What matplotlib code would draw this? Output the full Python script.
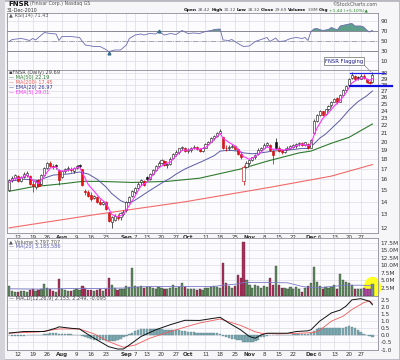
import pandas as pd
import matplotlib.pyplot as plt
from matplotlib.patches import Ellipse, Rectangle
from matplotlib.ticker import FixedLocator, NullLocator

# trading days shown on the chart
holidays = ['2010-09-06', '2010-11-25', '2010-12-24']
days = pd.bdate_range('2010-07-07', '2010-12-31')
days = days[~days.isin(pd.to_datetime(holidays))]

tick_dates = ['2010-07-12', '2010-07-19', '2010-07-26', '2010-08-02', '2010-08-09', '2010-08-16',
              '2010-08-23', '2010-09-01', '2010-09-07', '2010-09-13', '2010-09-20', '2010-09-27',
              '2010-10-01', '2010-10-11', '2010-10-18', '2010-10-25', '2010-11-01', '2010-11-08',
              '2010-11-15', '2010-11-22', '2010-12-01', '2010-12-06', '2010-12-13', '2010-12-20',
              '2010-12-27']
tick_labels = ['12', '19', '26', 'Aug', '9', '16', '23', 'Sep', '7', '13', '20', '27', 'Oct',
               '11', '18', '25', 'Nov', '8', '15', '22', 'Dec', '6', '13', '20', '27']

# daily OHLC
opens = [15.0, 15.9, 16.1, 16.3, 15.8, 16.2, 16.4, 16.3, 15.6, 15.3, 15.9, 15.6, 16.4, 17.1, 17.6, 17.3, 17.4, 16.9,
         16.2, 16.8, 17.0, 17.0, 16.8, 17.1, 17.4, 17.0, 14.9, 14.8, 14.6, 14.3, 14.4, 14.0, 13.8, 14.0, 13.1, 12.4,
         12.6, 12.8, 12.8, 13.0, 13.3, 14.0, 14.5, 14.8, 15.2, 15.7, 15.8, 16.2, 16.0, 16.5, 16.9, 17.3, 17.6, 17.8,
         17.4, 17.5, 18.1, 18.6, 18.8, 19.2, 19.3, 18.9, 19.0, 19.3, 19.4, 19.1, 18.9, 19.3, 19.7, 20.0, 20.4, 20.7,
         21.0, 20.5, 19.3, 19.2, 19.4, 19.5, 19.1, 18.6, 15.8, 17.2, 17.6, 17.9, 18.2, 18.6, 19.0, 19.3, 19.6, 19.6,
         18.9, 20.0, 19.3, 18.9, 18.8, 19.1, 19.3, 19.4, 19.5, 19.7, 19.8, 19.6, 19.7, 19.3, 21.0, 22.6, 23.4, 23.9,
         23.5, 24.2, 24.8, 25.3, 25.9, 25.3, 26.4, 27.2, 27.9, 29.1, 29.5, 29.3, 29.0, 29.5, 29.0, 28.5, 28.42]
highs = [16.0, 16.3, 16.5, 16.4, 16.3, 16.7, 16.8, 16.4, 15.9, 15.9, 16.0, 16.5, 17.2, 17.7, 17.8, 17.5, 17.5, 17.0,
         16.9, 17.1, 17.3, 17.2, 17.2, 17.4, 17.5, 17.0, 15.1, 15.0, 14.8, 14.6, 14.5, 14.2, 14.1, 14.1, 13.2, 12.9,
         13.0, 13.0, 13.2, 13.3, 14.1, 14.5, 15.0, 15.3, 15.7, 16.0, 15.9, 16.3, 16.6, 17.0, 17.4, 17.8, 18.0, 17.9,
         17.6, 18.2, 18.7, 19.0, 19.3, 19.5, 19.4, 19.2, 19.4, 19.6, 19.5, 19.3, 19.4, 19.8, 20.1, 20.5, 20.8, 21.2,
         21.5, 20.6, 19.6, 19.6, 19.7, 19.6, 19.2, 18.8, 17.4, 17.8, 18.0, 18.3, 18.6, 19.2, 19.4, 19.8, 20.0, 19.7,
         19.0, 20.4, 19.5, 19.1, 19.2, 19.5, 19.6, 19.7, 19.8, 20.0, 19.9, 20.0, 19.8, 20.3, 22.8, 23.6, 24.1, 24.0,
         24.3, 24.9, 25.4, 25.9, 26.0, 26.5, 27.3, 28.0, 29.2, 30.2, 29.7, 29.4, 29.9, 29.8, 29.1, 28.7, 30.12]
lows = [14.9, 15.7, 16.0, 15.7, 15.7, 16.1, 16.2, 15.5, 14.8, 15.1, 15.3, 15.5, 16.3, 17.0, 17.2, 17.0, 17.0, 15.5,
        16.1, 16.6, 16.8, 16.7, 16.6, 17.0, 17.1, 15.4, 14.6, 14.4, 14.1, 14.2, 13.9, 13.7, 13.7, 13.3, 12.4, 12.0,
        12.5, 12.6, 12.6, 12.9, 13.2, 13.9, 14.4, 14.7, 15.1, 15.5, 15.4, 15.8, 15.9, 16.4, 16.8, 17.2, 17.5, 17.3,
        17.1, 17.4, 18.0, 18.4, 18.6, 19.0, 18.8, 18.7, 18.8, 19.1, 19.0, 18.8, 18.8, 19.2, 19.6, 19.9, 20.2, 20.6,
        20.9, 19.1, 18.9, 19.0, 19.2, 19.0, 18.5, 18.0, 15.5, 17.1, 17.4, 17.8, 18.0, 18.5, 18.9, 19.2, 19.4, 18.9,
        17.5, 19.1, 18.8, 18.6, 18.7, 19.0, 19.1, 19.2, 19.3, 19.5, 19.5, 19.5, 19.1, 19.2, 20.9, 22.4, 23.2, 23.2,
        23.4, 24.0, 24.6, 25.2, 25.0, 25.2, 26.3, 27.0, 27.8, 28.9, 28.8, 28.8, 28.9, 28.9, 28.3, 28.1, 28.32]
closes = [15.9, 16.1, 16.4, 15.8, 16.2, 16.5, 16.6, 15.6, 15.4, 15.8, 15.4, 16.4, 17.1, 17.6, 17.3, 17.2, 17.3, 15.9,
          16.8, 17.0, 17.1, 16.9, 17.1, 17.3, 17.3, 15.5, 14.8, 14.5, 14.2, 14.5, 14.0, 13.8, 14.0, 13.4, 12.5, 12.8,
          12.9, 12.7, 13.1, 13.2, 14.0, 14.4, 14.9, 15.2, 15.6, 15.9, 15.5, 16.0, 16.5, 16.9, 17.3, 17.6, 17.9, 17.4,
          17.5, 18.0, 18.6, 18.8, 19.2, 19.4, 18.9, 19.0, 19.3, 19.4, 19.1, 18.9, 19.3, 19.7, 20.0, 20.4, 20.7, 21.0,
          21.3, 19.3, 19.2, 19.4, 19.5, 19.1, 18.6, 18.2, 17.2, 17.6, 17.9, 18.2, 18.5, 19.0, 19.3, 19.6, 19.8, 19.0,
          18.5, 19.3, 18.9, 18.8, 19.0, 19.3, 19.5, 19.6, 19.7, 19.8, 19.6, 19.9, 19.2, 20.2, 22.6, 23.4, 24.0, 23.4,
          24.2, 24.7, 25.3, 25.8, 25.2, 26.4, 27.2, 27.8, 29.0, 29.6, 29.0, 29.1, 29.5, 29.1, 28.5, 28.25, 29.69]

# volume in millions
volume = [3.3, 1.5, 1.3, 1.2, 1.4, 1.6, 1.3, 1.8, 2.0, 1.4, 1.7, 2.0, 3.7, 2.6, 2.2, 1.6, 1.3, 5.3,
          2.3, 1.8, 1.6, 1.5, 1.7, 2.0, 1.9, 3.3, 2.5, 1.8, 1.9, 1.6, 1.9, 2.1, 1.6, 2.2, 5.7, 3.4,
          2.6, 1.8, 2.0, 2.1, 3.0, 2.8, 9.0, 3.2, 2.8, 3.3, 2.4, 2.7, 2.9, 2.5, 2.3, 2.8, 2.6, 2.3,
          2.0, 2.6, 3.4, 2.5, 2.9, 4.0, 2.8, 2.2, 2.0, 2.3, 1.9, 2.1, 1.9, 2.4, 2.6, 2.8, 3.0, 2.7,
          2.5, 10.7, 4.2, 3.0, 2.4, 3.1, 6.7, 5.7, 17.7, 5.0, 3.5, 2.6, 3.4, 3.0, 2.4, 3.1, 2.8, 5.7,
          3.5, 9.7, 3.6, 2.6, 2.4, 2.1, 2.7, 2.2, 2.9, 2.0, 1.2, 2.4, 3.1, 4.0, 9.3, 4.3, 3.0, 2.3,
          2.8, 2.5, 2.9, 3.4, 2.3, 7.0, 5.0, 4.3, 4.0, 3.6, 2.3, 2.0, 2.1, 2.4, 2.2, 2.0, 3.8]

# moving averages (day index, value)
ma50_day = [0, 8, 19, 25, 31, 42, 54, 65, 79, 88, 99, 103, 110, 116, 124]
ma50_val = [14.9, 15.3, 15.6, 15.8, 15.8, 15.7, 15.8, 16.1, 17.0, 17.8, 18.7, 18.9, 19.8, 20.5, 22.19]
ma200_day = [0, 30, 60, 90, 110, 124]
ma200_val = [12.0, 13.0, 14.0, 15.3, 16.3, 17.45]
ema20_day = [0, 5, 10, 15, 20, 24, 27, 30, 33, 35, 38, 40, 42, 44, 47, 50, 53, 55, 57, 60, 63, 66, 70, 72,
             75, 78, 80, 83, 86, 90, 95, 100, 102, 104, 106, 108, 110, 113, 116, 119, 122, 124]
ema20_val = [15.8, 16.0, 15.9, 16.4, 16.5, 16.7, 16.5, 16.0, 15.3, 14.7, 14.1, 13.9, 14.0, 14.3, 14.8, 15.3,
             15.8, 16.1, 16.5, 17.0, 17.4, 17.8, 18.4, 18.9, 19.0, 18.9, 18.7, 18.6, 18.7, 18.9, 19.0, 19.2,
             19.2, 19.7, 20.4, 20.9, 21.6, 22.7, 24.1, 25.3, 26.2, 26.97]
ema5_day = [0, 2, 4, 6, 8, 10, 12, 14, 16, 17, 19, 22, 24, 25, 27, 29, 31, 33, 35, 37, 39, 41, 43, 45, 47,
            49, 51, 53, 55, 57, 59, 61, 63, 65, 67, 69, 71, 72, 73, 75, 77, 79, 80, 82, 84, 86, 88, 90, 92,
            94, 96, 98, 100, 102, 103, 104, 105, 107, 109, 111, 113, 115, 117, 119, 121, 123, 124]
ema5_val = [15.7, 16.1, 16.1, 16.4, 15.9, 15.6, 16.3, 17.1, 17.2, 16.8, 16.8, 17.0, 17.2, 16.6, 15.5, 14.9,
            14.3, 13.9, 13.0, 12.8, 13.0, 13.7, 14.5, 15.4, 15.7, 16.4, 17.1, 17.5, 17.7, 18.4, 19.0, 19.0,
            19.2, 19.1, 19.3, 19.9, 20.6, 21.0, 20.4, 19.9, 19.5, 18.8, 18.3, 18.0, 18.3, 18.8, 19.4, 19.1,
            19.1, 19.0, 19.2, 19.5, 19.7, 19.5, 19.7, 20.7, 21.6, 22.9, 23.7, 24.7, 25.5, 26.7, 28.3, 28.9,
            29.2, 28.7, 29.01]

# volume MA(20)
vma_day = [0, 10, 20, 30, 40, 45, 50, 60, 70, 73, 78, 80, 88, 95, 100, 103, 106, 110, 115, 120, 124]
vma_val = [2.2, 2.1, 2.3, 2.3, 2.5, 2.9, 3.0, 3.0, 3.0, 3.4, 3.8, 4.3, 4.3, 4.2, 3.0, 2.6, 2.6, 3.0, 3.4, 3.4, 3.19]

# RSI(14)
rsi_day = [0, 1, 4, 5, 7, 8, 9, 11, 12, 14, 16, 17, 18, 21, 24, 25, 26, 29, 31, 33, 34, 36, 38, 40, 41,
           43, 45, 46, 48, 50, 51, 53, 55, 57, 59, 61, 63, 65, 67, 69, 70, 72, 73, 75, 76, 77, 79, 80, 82,
           84, 86, 88, 89, 91, 92, 94, 96, 98, 100, 101, 102, 103, 104, 105, 107, 109, 110, 112, 113, 116,
           117, 118, 120, 121, 122, 123, 124]
rsi_val = [49, 53, 55, 54, 51, 55, 52, 62, 67, 65, 64, 51, 59, 59, 57, 49, 42, 39, 39, 33, 28.7, 32, 32, 42,
           55, 62, 64, 62, 65, 64, 69, 62, 65, 63, 71, 65, 66, 65, 69, 71, 73, 74, 52, 51, 53, 49, 42, 39, 40,
           49, 53, 57, 49, 56, 49, 50, 55, 57, 55, 57, 51, 69, 74, 75, 71, 73, 77, 72, 80, 84, 85, 80, 80, 78,
           72, 68, 71.43]

# MACD(12,26,9)
macd_day = [0, 5, 12, 16, 17, 21, 24, 28, 31, 34, 37, 39, 41, 45, 50, 55, 60, 65, 72, 75, 79, 82, 84, 86,
            88, 91, 95, 98, 102, 103, 106, 110, 113, 115, 117, 120, 123, 124]
macd_val = [0.16, 0.27, 0.27, 0.51, 0.6, 0.5, 0.45, -0.08, -0.44, -0.8, -0.96, -0.96, -0.68, -0.08, 0.39,
            0.75, 1.06, 1.05, 1.27, 0.87, 0.39, -0.08, -0.2, 0.03, 0.15, 0.15, 0.15, 0.27, 0.32, 0.39, 1.0,
            1.58, 1.78, 2.06, 2.5, 2.58, 2.4, 2.153]
sig_day = [0, 10, 17, 24, 29, 34, 39, 43, 48, 55, 62, 65, 72, 79, 84, 86, 92, 99, 104, 106, 110, 114, 117,
           121, 123, 124]
sig_val = [0.16, 0.24, 0.45, 0.45, 0.1, -0.44, -0.84, -0.68, -0.2, 0.27, 0.7, 0.87, 1.15, 0.7, 0.25, 0.15,
           0.1, 0.15, 0.2, 0.35, 1.0, 1.35, 1.82, 2.3, 2.42, 2.249]
hist = [0.0, -0.02, -0.03, -0.05, -0.04, -0.02, 0.0, 0.02, 0.02, 0.03, 0.03, 0.05, 0.08, 0.12, 0.14, 0.15,
        0.15, 0.13, 0.1, 0.09, 0.08, 0.07, 0.06, 0.05, 0.04, -0.05, -0.15, -0.22, -0.27, -0.3, -0.33, -0.35,
        -0.35, -0.37, -0.42, -0.43, -0.42, -0.35, -0.25, -0.15, -0.02, 0.1, 0.2, 0.3, 0.38, 0.42, 0.42, 0.42,
        0.44, 0.45, 0.44, 0.44, 0.43, 0.4, 0.38, 0.38, 0.36, 0.36, 0.35, 0.34, 0.3, 0.27, 0.25, 0.22, 0.2,
        0.18, 0.14, 0.14, 0.15, 0.16, 0.16, 0.15, 0.12, -0.05, -0.15, -0.2, -0.24, -0.28, -0.32, -0.36, -0.44,
        -0.46, -0.47, -0.45, -0.4, -0.3, -0.15, -0.08, -0.02, 0.02, 0.04, 0.05, 0.05, 0.05, 0.05, 0.05, 0.06,
        0.08, 0.1, 0.12, 0.13, 0.12, 0.1, 0.15, 0.3, 0.45, 0.55, 0.55, 0.55, 0.55, 0.55, 0.55, 0.52, 0.52,
        0.55, 0.6, 0.63, 0.6, 0.5, 0.35, 0.25, 0.12, 0.02, -0.05, -0.095]

W, H = 400, 360
fig = plt.figure(figsize=(4.0, 3.6), dpi=100, facecolor='#f6f6f8')
renderer = fig.canvas.get_renderer()

n = len(days)
xs = list(range(n))
tick_pos = [days.get_loc(pd.Timestamp(d)) for d in tick_dates]
xmin, xmax = -0.75, 125.9

LX, RX = 7, 378


def panel(y0, y1):
    ax = fig.add_axes([LX / W, 1 - y1 / H, (RX - LX) / W, (y1 - y0) / H])
    ax.set_facecolor('#fcfcfe')
    ax.set_xlim(xmin, xmax)
    for s in ax.spines.values():
        s.set_color('#8c8c98')
        s.set_linewidth(0.6)
    ax.yaxis.tick_right()
    ax.tick_params(axis='both', length=0, labelsize=4.2, colors='#333333', pad=2)
    ax.xaxis.set_major_locator(FixedLocator(tick_pos))
    ax.grid(True, color='#dcdce4', lw=0.5)
    ax.set_axisbelow(True)
    return ax


def ftxt(x, y, s, **kw):
    return fig.text(x / W, 1 - y / H, s, va='center', **kw)


def run_text(x, y, parts, gap=1.5):
    # write text pieces one after another on a line
    for s, kw in parts:
        t = ftxt(x, y, s, **kw)
        x += t.get_window_extent(renderer).width + gap


def bold_months(ax):
    for lab in ax.get_xticklabels():
        if lab.get_text() in ('Aug', 'Sep', 'Oct', 'Nov', 'Dec'):
            lab.set_fontweight('bold')


# ---- RSI ----
ax_r = panel(13, 70)
ax_r.set_ylim(-8, 106)
ax_r.set_yticks([10, 30, 50, 70, 90])
ax_r.set_xticklabels([])
ax_r.axhline(70, color='#8a8a96', lw=0.7)
ax_r.axhline(30, color='#8a8a96', lw=0.7)
ax_r.axhline(50, color='#9a9aa6', lw=0.6, ls='-.')
ax_r.plot(rsi_day, rsi_val, color='#6b6bb0', lw=0.6, zorder=3)
ax_r.fill_between(rsi_day, rsi_val, 70, where=[v > 70 for v in rsi_val], interpolate=True,
                  color='#5f9f8c', lw=0, zorder=2)
ax_r.fill_between(rsi_day, rsi_val, 30, where=[v < 30 for v in rsi_val], interpolate=True,
                  color='#5f9f8c', lw=0, zorder=2)
ax_r.plot([34], [27], marker='^', ms=2, color='#3a6a8a', zorder=4)
ax_r.plot([51], [71], marker='^', ms=2, color='#3a6a8a', zorder=4)

# ---- price ----
ax_p = panel(70, 233)
ax_p.set_yscale('log')
ax_p.set_ylim(11.64, 30.54)
pt = list(range(12, 31))
ax_p.yaxis.set_major_locator(FixedLocator(pt))
ax_p.yaxis.set_minor_locator(NullLocator())
ax_p.set_yticklabels([str(v) for v in pt])
ax_p.set_xticklabels(tick_labels)
bold_months(ax_p)
ax_p.tick_params(axis='x', pad=1.5, labelsize=4)

ax_p.plot(ma200_day, ma200_val, color='#f26a6a', lw=0.8, zorder=2)
ax_p.plot(ma50_day, ma50_val, color='#2f7a2f', lw=0.8, zorder=2)
ax_p.plot(ema20_day, ema20_val, color='#5a5aa6', lw=0.7, zorder=2)

for i in xs:
    o, h, l, c = opens[i], highs[i], lows[i], closes[i]
    prev = closes[i - 1] if i > 0 else o
    down = c < prev
    edge = '#c00000' if down else '#111111'
    ax_p.vlines(i, l, h, color=edge, lw=0.5, zorder=3)
    lo, hi = min(o, c), max(o, c)
    if c >= o:
        fc = 'white'
    else:
        fc = '#ee1111' if down else '#111111'
    ax_p.bar(i, max(hi - lo, 0.04), bottom=lo, width=0.72, color=fc, edgecolor=edge, lw=0.4, zorder=3)

ax_p.plot(ema5_day, ema5_val, color='#ff33ff', lw=0.8, zorder=4)

# flag lines and note
ax_p.plot([116.3, 128.2], [30.05, 30.05], color='#2222ee', lw=0.9, clip_on=False, zorder=5)
ax_p.plot([116.3, 130.6], [27.8, 27.8], color='#1111dd', lw=1.6, clip_on=False, zorder=5)
ftxt(344, 61, 'FNSR Flagging', fontsize=3.8, color='#1a1a8a', ha='center',
     bbox=dict(boxstyle='square,pad=0.25', fc='white', ec='#444444', lw=0.4))
fig.add_artist(plt.Line2D([362 / W, 371 / W], [1 - 63 / H, 1 - 72 / H], color='#888888', lw=0.5))

# ---- volume ----
ax_v = panel(238, 295.5)
ax_v.set_ylim(0, 19.0)
vt = [2.5, 5.0, 7.5, 10.0, 12.5, 15.0, 17.5]
ax_v.set_yticks(vt)
ax_v.set_yticklabels(['%.1fM' % v for v in vt])
ax_v.set_xticklabels([])
vcol = []
for i in xs:
    prev = closes[i - 1] if i > 0 else opens[i]
    vcol.append('#b02a5a' if closes[i] < prev else '#5e8c5e')
for i in (121, 122, 123):
    vcol[i] = '#b44aa6'
vcol[124] = '#6f8fa6'
ax_v.add_patch(Ellipse((372.5 / W, 1 - 287.5 / H), 16 / W, 20 / H, transform=fig.transFigure,
                       color='#ffff22', clip_on=False, zorder=1))
ax_v.bar(xs, volume, width=0.75, color=vcol, edgecolor='#3a3a3a', lw=0.25, zorder=2)
ax_v.plot(vma_day, vma_val, color='#7a7ac8', lw=0.6, zorder=3)

# ---- MACD ----
ax_m = panel(296, 350)
ax_m.set_ylim(-1.03, 2.77)
mt = [-1.0, -0.5, 0.0, 0.5, 1.0, 1.5, 2.0, 2.5]
ax_m.set_yticks(mt)
ax_m.set_yticklabels(['%.1f' % v for v in mt])
ax_m.set_xticklabels(tick_labels)
bold_months(ax_m)
ax_m.tick_params(axis='x', pad=1.5, labelsize=4)
ax_m.bar(xs, hist, width=0.85, color='#7eaab2', edgecolor='#5f7f86', lw=0.25, zorder=2)
ax_m.plot(sig_day, sig_val, color='#f05a5a', lw=0.6, zorder=3)
ax_m.plot(macd_day, macd_val, color='#111111', lw=0.7, zorder=4)

# ---- texts ----
B = dict(fontsize=3.2, color='#111111', fontweight='bold')
G = dict(fontsize=3.2, color='#555555')
run_text(8, 3.5, [('FNSR', dict(fontsize=5.0, fontweight='bold', color='#111111')),
                  ('(Finisar Corp.) Nasdaq GS', dict(fontsize=3.4, color='#555555'))], gap=1.5)
ftxt(7, 10, '31-Dec-2010', fontsize=3.4, color='#333333')
ftxt(377, 4, '\u00a9StockCharts.com', fontsize=3.4, color='#555555', ha='right')
run_text(184, 10, [('Open', B), ('28.42', G), ('High', B), ('30.12', G), ('Low', B), ('28.32', G),
                   ('Close', B), ('29.69', G), ('Volume', B), ('3.8M', G), ('Chg', B),
                   ('+1.44 (+5.10%)\u25b2', dict(fontsize=3.2, color='#2a8a2a'))], gap=0.9)

ftxt(9, 16, '\u25b2 RSI(14) 71.43', fontsize=3.6, color='#555555')
ftxt(9, 72.5, '\u25aaFNSR (Daily) 29.69', fontsize=3.6, color='#444444')
ftxt(9, 77.5, '\u2014 MA(50) 22.19', fontsize=3.6, color='#2f7a2f')
ftxt(9, 82.5, '\u2014 MA(200) 17.45', fontsize=3.6, color='#f05a5a')
ftxt(9, 87.5, '\u2014 EMA(20) 26.97', fontsize=3.6, color='#30308a')
ftxt(9, 92.5, '\u2014 EMA(5) 29.01', fontsize=3.6, color='#ff33ff')
ftxt(9, 241.5, '\u25b2 Volume 3,797,707', fontsize=3.6, color='#555555')
ftxt(9, 246.5, '\u2014 MA(20) 3,185,586', fontsize=3.6, color='#5a5aaa')
ftxt(9, 298.5, '\u2014 MACD(12,26,9) 2.153, 2.249, -0.095', fontsize=3.6, color='#444444')

# frame
fig.add_artist(Rectangle((0, 0), 1, 1, transform=fig.transFigure, fill=False,
                         ec='#b8b8c0', lw=2))
fig.add_artist(Rectangle((0, 0), 5 / W, 1, transform=fig.transFigure, color='#d4d4da', lw=0))

fig.savefig('out.png', dpi=100, facecolor=fig.get_facecolor())
